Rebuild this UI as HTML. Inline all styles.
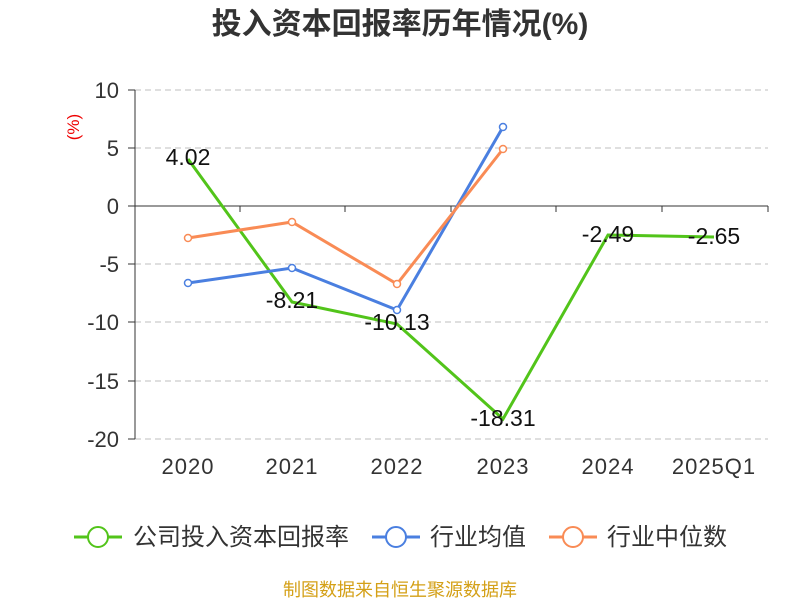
<!DOCTYPE html>
<html><head><meta charset="utf-8"><style>body{margin:0;background:#fff}svg{display:block}</style></head><body>
<svg width="800" height="600" xmlns="http://www.w3.org/2000/svg" font-family="Liberation Sans, Noto Sans CJK SC, sans-serif">
<text x="400" y="34" text-anchor="middle" font-size="30" font-weight="bold" fill="#333">投入资本回报率历年情况(%)</text>
<text x="79" y="127" font-size="17" fill="#e00" transform="rotate(-90 79 127)" text-anchor="middle">(%)</text>
<g stroke="#ccc" stroke-dasharray="6,4" stroke-width="1.3">
<line x1="135" y1="90" x2="768" y2="90"/><line x1="135" y1="148" x2="768" y2="148"/>
<line x1="135" y1="264" x2="768" y2="264"/><line x1="135" y1="322" x2="768" y2="322"/>
<line x1="135" y1="381" x2="768" y2="381"/><line x1="135" y1="439" x2="768" y2="439"/>
</g>
<line x1="135" y1="206" x2="768" y2="206" stroke="#333"/>
<line x1="135" y1="90" x2="135" y2="439" stroke="#333"/>
<g stroke="#333"><line x1="128" y1="90" x2="135" y2="90"/><line x1="128" y1="148" x2="135" y2="148"/><line x1="128" y1="206" x2="135" y2="206"/><line x1="128" y1="264" x2="135" y2="264"/><line x1="128" y1="322" x2="135" y2="322"/><line x1="128" y1="381" x2="135" y2="381"/><line x1="128" y1="439" x2="135" y2="439"/>
<line x1="240" y1="206" x2="240" y2="212"/><line x1="345" y1="206" x2="345" y2="212"/><line x1="451" y1="206" x2="451" y2="212"/><line x1="556" y1="206" x2="556" y2="212"/><line x1="662" y1="206" x2="662" y2="212"/><line x1="768" y1="206" x2="768" y2="212"/></g>
<g font-size="22" fill="#333" text-anchor="end">
<text x="119" y="98">10</text><text x="119" y="156">5</text><text x="119" y="214">0</text><text x="119" y="272">-5</text><text x="119" y="330">-10</text><text x="119" y="389">-15</text><text x="119" y="447">-20</text></g>
<g font-size="22" fill="#333" text-anchor="middle" letter-spacing="1">
<text x="188" y="474">2020</text><text x="292" y="474">2021</text><text x="397" y="474">2022</text><text x="503" y="474">2023</text><text x="608" y="474">2024</text><text x="714" y="474">2025Q1</text></g>
<polyline fill="none" stroke="#52c41a" stroke-width="3" points="188,159 292,302 397,324 503,419 608,235 714,237"/>
<polyline fill="none" stroke="#4a7fe0" stroke-width="3" points="188,283 292,268 397,310 503,127"/>
<polyline fill="none" stroke="#f98b55" stroke-width="3" points="188,238 292,222 397,284 503,149"/>
<g fill="#fff" stroke-width="1.5">
<g stroke="#4a7fe0"><circle cx="188" cy="283" r="3.5"/><circle cx="292" cy="268" r="3.5"/><circle cx="397" cy="310" r="3.5"/><circle cx="503" cy="127" r="3.5"/></g>
<g stroke="#f98b55"><circle cx="188" cy="238" r="3.5"/><circle cx="292" cy="222" r="3.5"/><circle cx="397" cy="284" r="3.5"/><circle cx="503" cy="149" r="3.5"/></g>
</g>
<g font-size="23" fill="#111" text-anchor="middle">
<text x="188" y="165">4.02</text><text x="292" y="308">-8.21</text><text x="397" y="330">-10.13</text><text x="503" y="426">-18.31</text><text x="608" y="242">-2.49</text><text x="714" y="244">-2.65</text></g>
<g font-size="24" fill="#333">
<line x1="74" y1="537" x2="122" y2="537" stroke="#52c41a" stroke-width="3"/><circle cx="98" cy="537" r="10" fill="#fff" stroke="#52c41a" stroke-width="2"/>
<text x="133" y="545">公司投入资本回报率</text>
<line x1="372" y1="537" x2="420" y2="537" stroke="#4a7fe0" stroke-width="3"/><circle cx="396" cy="537" r="10" fill="#fff" stroke="#4a7fe0" stroke-width="2"/>
<text x="430" y="545">行业均值</text>
<line x1="549" y1="537" x2="597" y2="537" stroke="#f98b55" stroke-width="3"/><circle cx="573" cy="537" r="10" fill="#fff" stroke="#f98b55" stroke-width="2"/>
<text x="607" y="545">行业中位数</text></g>
<text x="400" y="596" text-anchor="middle" font-size="18" fill="#d4a017">制图数据来自恒生聚源数据库</text>
</svg>
</body></html>
